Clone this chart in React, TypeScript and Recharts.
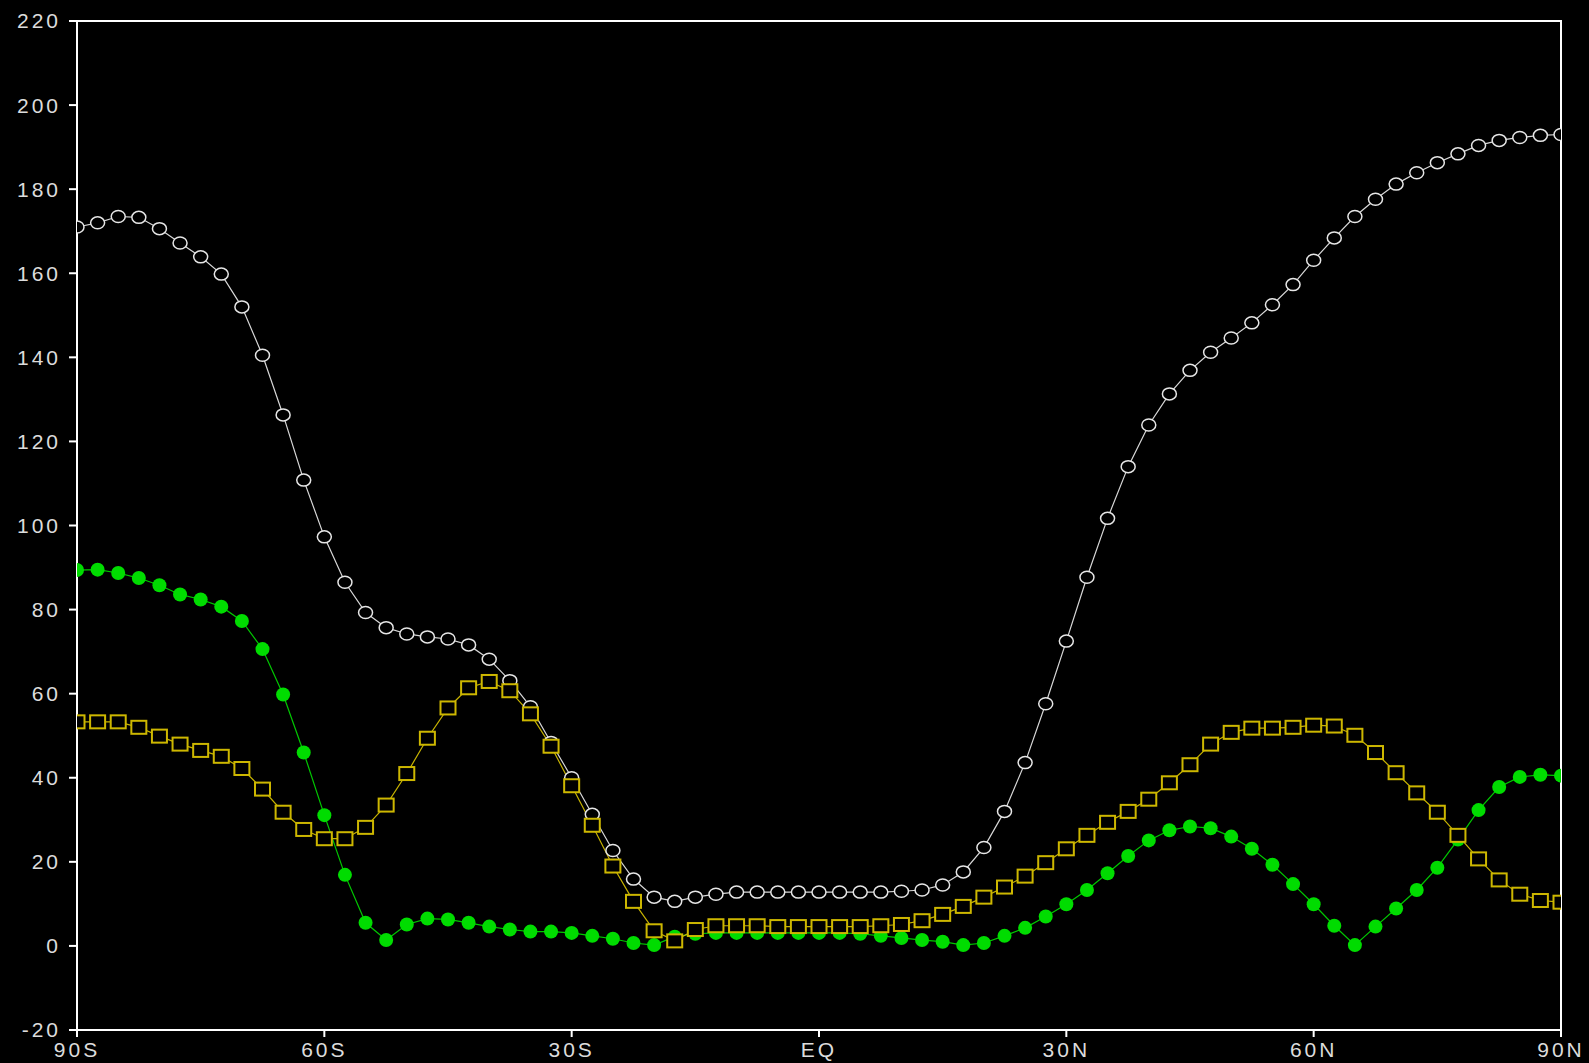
import React from 'react';
import { LineChart, Line, XAxis, YAxis, ReferenceArea } from 'recharts';

const lats = [
  -90, -87.5, -85, -82.5, -80, -77.5, -75, -72.5, -70, -67.5,
  -65, -62.5, -60, -57.5, -55, -52.5, -50, -47.5, -45, -42.5,
  -40, -37.5, -35, -32.5, -30, -27.5, -25, -22.5, -20, -17.5,
  -15, -12.5, -10, -7.5, -5, -2.5, 0, 2.5, 5, 7.5,
  10, 12.5, 15, 17.5, 20, 22.5, 25, 27.5, 30, 32.5,
  35, 37.5, 40, 42.5, 45, 47.5, 50, 52.5, 55, 57.5,
  60, 62.5, 65, 67.5, 70, 72.5, 75, 77.5, 80, 82.5,
  85, 87.5, 90,
];

const whiteSeries = [
  171, 172, 173.5, 173.3, 170.6, 167.2, 163.9, 159.8, 152, 140.5,
  126.3, 110.8, 97.3, 86.5, 79.3, 75.7, 74.2, 73.5, 73, 71.6,
  68.2, 63.1, 56.9, 48.4, 40, 31.3, 22.7, 15.9, 11.6, 10.6,
  11.6, 12.3, 12.8, 12.8, 12.8, 12.8, 12.8, 12.8, 12.8, 12.8,
  13, 13.3, 14.5, 17.6, 23.4, 32, 43.6, 57.6, 72.5, 87.7,
  101.7, 114, 123.9, 131.3, 136.9, 141.2, 144.6, 148.2, 152.5, 157.3,
  163.1, 168.4, 173.5, 177.6, 181.2, 183.9, 186.3, 188.4, 190.4, 191.6,
  192.3, 192.8, 193,
];

const greenSeries = [
  89.4, 89.5, 88.7, 87.5, 85.8, 83.6, 82.4, 80.7, 77.3, 70.6,
  59.8, 46, 31.1, 16.9, 5.5, 1.4, 5.1, 6.5, 6.3, 5.5,
  4.6, 3.9, 3.4, 3.4, 3.1, 2.4, 1.7, 0.7, 0.2, 2.2,
  2.9, 3.1, 3.1, 3.1, 3.1, 3.1, 3.1, 3.1, 2.9, 2.4,
  1.9, 1.4, 1, 0.2, 0.7, 2.4, 4.3, 7, 9.9, 13.3,
  17.3, 21.4, 25.1, 27.5, 28.4, 28, 26, 23.1, 19.3, 14.7,
  9.9, 4.8, 0.2, 4.6, 8.9, 13.3, 18.6, 25.3, 32.3, 37.8,
  40.2, 40.7, 40.5,
];

const yellowSeries = [
  53.3, 53.3, 53.3, 52, 49.9, 48, 46.5, 45.1, 42.2, 37.3,
  31.8, 27.7, 25.5, 25.5, 28.2, 33.5, 41, 49.4, 56.6, 61.4,
  62.9, 60.7, 55.2, 47.5, 38.1, 28.7, 19, 10.6, 3.6, 1.2,
  3.9, 4.8, 4.8, 4.8, 4.6, 4.6, 4.6, 4.6, 4.6, 4.8,
  5.1, 6, 7.5, 9.4, 11.6, 14, 16.6, 19.8, 23.1, 26.3,
  29.4, 32, 34.9, 38.8, 43.1, 48, 50.8, 51.8, 51.8, 52,
  52.5, 52.3, 50.1, 46, 41.2, 36.4, 31.8, 26.3, 20.7, 15.7,
  12.3, 10.8, 10.4,
];

const xTicks = [-90, -60, -30, 0, 30, 60, 90];
const xTickLabels = ['90S', '60S', '30S', 'EQ', '30N', '60N', '90N'];
const yTicks = [-20, 0, 20, 40, 60, 80, 100, 120, 140, 160, 180, 200, 220];

const data = lats.map((lat, i) => ({
  lat,
  white: whiteSeries[i],
  green: greenSeries[i],
  yellow: yellowSeries[i],
}));

const tickStyle = {
  fill: '#dcdcdc',
  fontSize: 21,
  fontFamily: 'Liberation Sans',
  letterSpacing: 3,
};

// marker shapes, roughly like the GrADS ones
const OpenCircle = (props: any) => {
  const { cx, cy, index } = props;
  if (cx == null || cy == null) return <g key={`w${index}`} />;
  return (
    <ellipse key={`w${index}`} cx={cx} cy={cy} rx={7} ry={6}
      fill="#000" stroke="#e6e6e6" strokeWidth={1.5} />
  );
};

const GreenDot = (props: any) => {
  const { cx, cy, index } = props;
  if (cx == null || cy == null) return <g key={`g${index}`} />;
  return <circle key={`g${index}`} cx={cx} cy={cy} r={7} fill="#00dc00" />;
};

const OpenSquare = (props: any) => {
  const { cx, cy, index } = props;
  if (cx == null || cy == null) return <g key={`y${index}`} />;
  return (
    <rect key={`y${index}`} x={cx - 7.5} y={cy - 6.5} width={15} height={13}
      fill="#000" stroke="#cdb700" strokeWidth={2} />
  );
};

export default function App() {
  return (
    <div style={{ position: 'fixed', left: 0, top: 0, width: 1589, height: 1063, background: '#000' }}>
      <LineChart width={1589} height={1063} data={data}
        margin={{ top: 21, right: 28, bottom: 0, left: 0 }}>
        <XAxis
          dataKey="lat"
          type="number"
          domain={[-90, 90]}
          allowDataOverflow
          ticks={xTicks}
          tickFormatter={(v: number) => xTickLabels[xTicks.indexOf(v)]}
          height={33}
          stroke="#ffffff"
          strokeWidth={2}
          tickSize={7}
          tickMargin={5}
          tick={tickStyle}
          interval={0}
        />
        <YAxis
          type="number"
          domain={[-20, 220]}
          ticks={yTicks}
          width={77}
          stroke="#ffffff"
          strokeWidth={2}
          tickSize={8}
          tickMargin={8}
          tick={tickStyle}
          interval={0}
        />
        <Line type="linear" dataKey="white" stroke="#d8d8d8" strokeWidth={1.2}
          dot={OpenCircle} activeDot={false} isAnimationActive={false} />
        <Line type="linear" dataKey="green" stroke="#00c800" strokeWidth={1.2}
          dot={GreenDot} activeDot={false} isAnimationActive={false} />
        <Line type="linear" dataKey="yellow" stroke="#c8b400" strokeWidth={1.2}
          dot={OpenSquare} activeDot={false} isAnimationActive={false} />
        {/* frame on all four sides */}
        <ReferenceArea x1={-90} x2={90} y1={-20} y2={220}
          fill="none" stroke="#ffffff" strokeWidth={2} fillOpacity={0} />
      </LineChart>
    </div>
  );
}
